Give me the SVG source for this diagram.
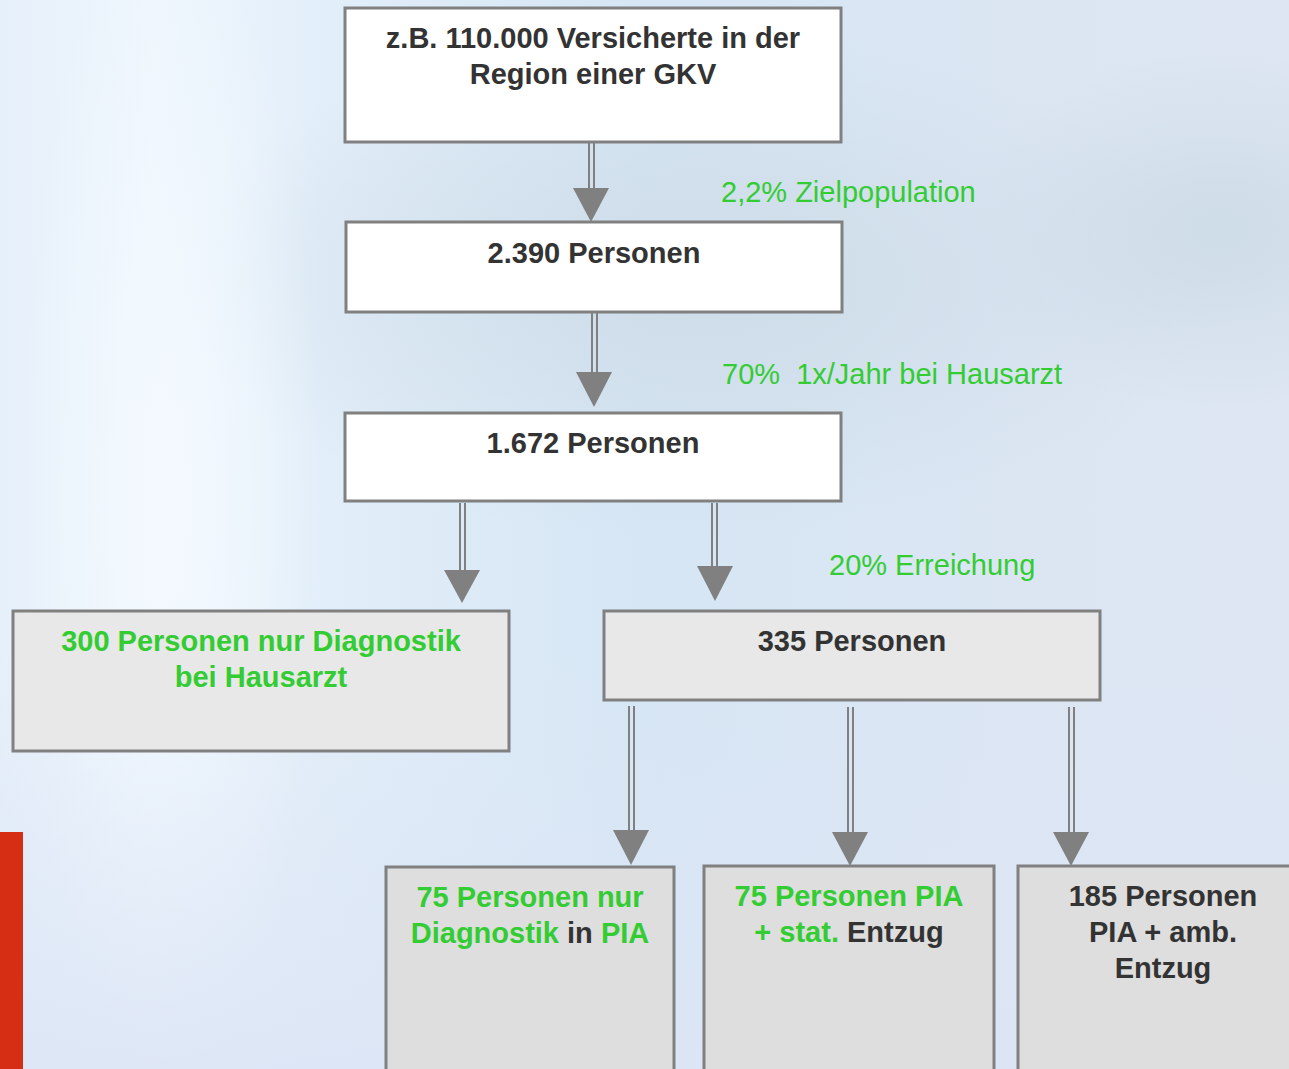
<svg xmlns="http://www.w3.org/2000/svg" width="1289" height="1069" viewBox="0 0 1289 1069">
<defs>
<linearGradient id="bg" x1="0" y1="0" x2="1" y2="0">
<stop offset="0" stop-color="#E6F0FA"/>
<stop offset="0.12" stop-color="#EEF6FD"/>
<stop offset="0.25" stop-color="#E2EEF9"/>
<stop offset="0.5" stop-color="#D6E6F4"/>
<stop offset="0.8" stop-color="#DCE6F3"/>
<stop offset="1" stop-color="#DDE6F2"/>
</linearGradient>
<radialGradient id="blob1" cx="0.5" cy="0.5" r="0.5">
<stop offset="0" stop-color="#CCDBE6" stop-opacity="0.9"/>
<stop offset="1" stop-color="#CCDBE6" stop-opacity="0"/>
</radialGradient>
<radialGradient id="blob2" cx="0.5" cy="0.5" r="0.5">
<stop offset="0" stop-color="#F4FAFF" stop-opacity="0.9"/>
<stop offset="1" stop-color="#F4FAFF" stop-opacity="0"/>
</radialGradient>
<linearGradient id="bot" x1="0" y1="0" x2="0" y2="1">
<stop offset="0" stop-color="#DCE5F5" stop-opacity="0"/>
<stop offset="1" stop-color="#DCE5F5" stop-opacity="0.9"/>
</linearGradient>
</defs>
<style>
.box{stroke:#808080;stroke-width:3}
.w{fill:#FFFFFF}
.g1{fill:#E8E8E8}
.g2{fill:#DEDEDE}
.t{font-family:"Liberation Sans",Arial,sans-serif;font-size:29px;font-weight:bold;fill:#333333;text-anchor:middle}
.gr{fill:#33CC33}
.lbl{font-family:"Liberation Sans",Arial,sans-serif;font-size:29px;fill:#33CC33;white-space:pre}
.shaft{stroke:#808080;stroke-width:2;fill:none}
.head{fill:#808080}
</style>
<g id="background">
<rect x="0" y="0" width="1289" height="1069" fill="url(#bg)"/>
<ellipse cx="700" cy="280" rx="520" ry="260" fill="url(#blob1)"/>
<ellipse cx="1220" cy="230" rx="260" ry="180" fill="url(#blob1)"/>
<ellipse cx="170" cy="500" rx="150" ry="600" fill="url(#blob2)"/>
<rect x="0" y="650" width="1289" height="419" fill="url(#bot)"/>
<rect x="0" y="832" width="23" height="237" fill="#D62E14"/>
</g>
<g id="connectors">
<g id="c1"><line class="shaft" x1="589" y1="137" x2="589" y2="190"/><line class="shaft" x1="594" y1="137" x2="594" y2="190"/><polygon class="head" points="573,188 609,188 591,222"/></g>
<g id="c2"><line class="shaft" x1="592" y1="313" x2="592" y2="374"/><line class="shaft" x1="597" y1="313" x2="597" y2="374"/><polygon class="head" points="576,372 612,372 594,407"/></g>
<g id="c3"><line class="shaft" x1="460" y1="503" x2="460" y2="572"/><line class="shaft" x1="465" y1="503" x2="465" y2="572"/><polygon class="head" points="444,570 480,570 462,603"/></g>
<g id="c4"><line class="shaft" x1="712" y1="503" x2="712" y2="568"/><line class="shaft" x1="717" y1="503" x2="717" y2="568"/><polygon class="head" points="697,566 733,566 715,601"/></g>
<g id="c5"><line class="shaft" x1="629" y1="706" x2="629" y2="832"/><line class="shaft" x1="634" y1="706" x2="634" y2="832"/><polygon class="head" points="613,830 649,830 631,865"/></g>
<g id="c6"><line class="shaft" x1="848" y1="707" x2="848" y2="834"/><line class="shaft" x1="853" y1="707" x2="853" y2="834"/><polygon class="head" points="832,832 868,832 850,866"/></g>
<g id="c7"><line class="shaft" x1="1069" y1="707" x2="1069" y2="834"/><line class="shaft" x1="1074" y1="707" x2="1074" y2="834"/><polygon class="head" points="1053,832 1089,832 1071,866"/></g>
</g>
<g id="labels">
<text class="lbl" x="721" y="202">2,2% Zielpopulation</text>
<text class="lbl" x="722" y="384" xml:space="preserve">70%  1x/Jahr bei Hausarzt</text>
<text class="lbl" x="829" y="575">20% Erreichung</text>
</g>
<g id="n1"><rect class="box w" x="345" y="8" width="496" height="134"/><text class="t" x="593" y="48">z.B. 110.000 Versicherte in der</text><text class="t" x="593" y="84">Region einer GKV</text></g>
<g id="n2"><rect class="box w" x="346" y="222" width="496" height="90"/><text class="t" x="594" y="263">2.390 Personen</text></g>
<g id="n3"><rect class="box w" x="345" y="413" width="496" height="88"/><text class="t" x="593" y="453">1.672 Personen</text></g>
<g id="n4"><rect class="box g1" x="13" y="611" width="496" height="140"/><text class="t gr" x="261" y="651">300 Personen nur Diagnostik</text><text class="t gr" x="261" y="687">bei Hausarzt</text></g>
<g id="n5"><rect class="box g1" x="604" y="611" width="496" height="89"/><text class="t" x="852" y="651">335 Personen</text></g>
<g id="n6"><rect class="box g2" x="386" y="867" width="288" height="220"/><text class="t gr" x="530" y="907">75 Personen nur</text><text class="t" x="530" y="943"><tspan class="gr">Diagnostik</tspan> in <tspan class="gr">PIA</tspan></text></g>
<g id="n7"><rect class="box g2" x="704" y="866" width="290" height="220"/><text class="t gr" x="849" y="906">75 Personen PIA</text><text class="t" x="849" y="942"><tspan class="gr">+ stat.</tspan> Entzug</text></g>
<g id="n8"><rect class="box g2" x="1018" y="866" width="300" height="220"/><text class="t" x="1163" y="906">185 Personen</text><text class="t" x="1163" y="942">PIA + amb.</text><text class="t" x="1163" y="978">Entzug</text></g>
</svg>
